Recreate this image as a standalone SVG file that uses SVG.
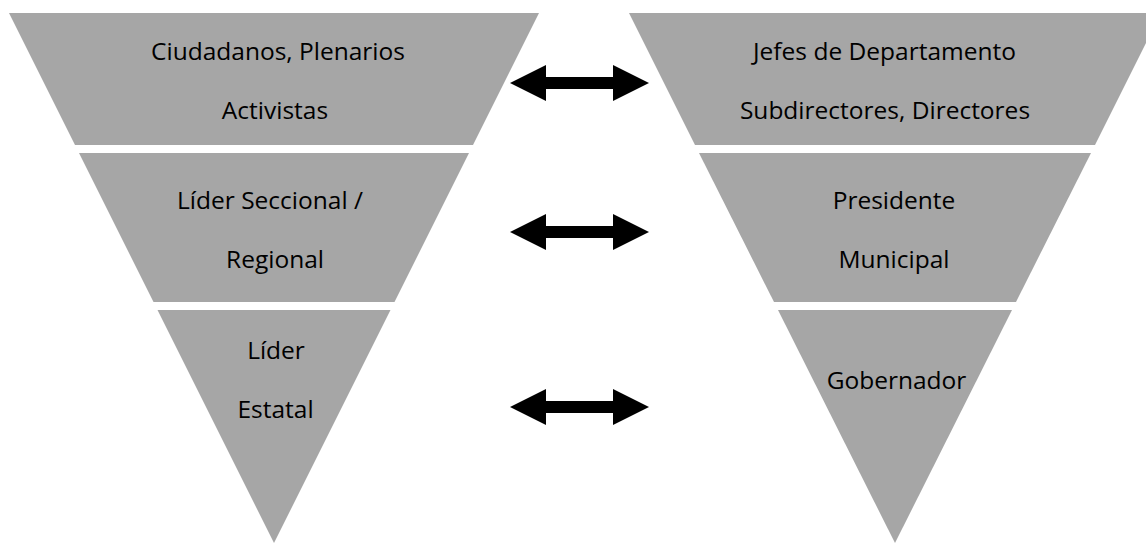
<svg xmlns="http://www.w3.org/2000/svg" width="1146" height="543" viewBox="0 0 1146 543">
  <style>
    .band { fill: #a6a6a6; }
    .lbl { font-family: "Open Sans", "Noto Sans", sans-serif; font-size: 24.5px; fill: #000; text-anchor: middle; }
    .arrow { fill: #000; }
  </style>
  <defs>
    <path id="dblarrow" d="M0,0 L36,-18 L36,-6 L103,-6 L103,-18 L139,0 L103,18 L103,6 L36,6 L36,18 Z"/>
  </defs>
  <rect width="1146" height="543" fill="#fff"/>

  <g id="left-pyramid">
    <g id="n-ciudadanos">
      <polygon class="band" points="9,13 539,13 473,145 75,145"/>
      <text class="lbl" x="278" y="60">Ciudadanos, Plenarios</text>
      <text class="lbl" x="275" y="119">Activistas</text>
    </g>
    <g id="n-lider-seccional">
      <polygon class="band" points="79,153 469,153 394.5,302 153.5,302"/>
      <text class="lbl" x="270" y="209">Líder Seccional /</text>
      <text class="lbl" x="275" y="268">Regional</text>
    </g>
    <g id="n-lider-estatal">
      <polygon class="band" points="157.5,310 390.5,310 274,543"/>
      <text class="lbl" x="276" y="359">Líder</text>
      <text class="lbl" x="275.5" y="418">Estatal</text>
    </g>
  </g>

  <g id="right-pyramid">
    <g id="n-jefes">
      <polygon class="band" points="629,13 1161,13 1095,145 695,145"/>
      <text class="lbl" x="884.5" y="60">Jefes de Departamento</text>
      <text class="lbl" x="885" y="119">Subdirectores, Directores</text>
    </g>
    <g id="n-presidente">
      <polygon class="band" points="699,153 1091,153 1016,302 774,302"/>
      <text class="lbl" x="894" y="209">Presidente</text>
      <text class="lbl" x="894" y="268">Municipal</text>
    </g>
    <g id="n-gobernador">
      <polygon class="band" points="778,310 1012,310 895,543"/>
      <text class="lbl" x="896.5" y="389">Gobernador</text>
    </g>
  </g>

  <g id="connectors">
    <use href="#dblarrow" class="arrow" x="510" y="83"/>
    <use href="#dblarrow" class="arrow" x="510" y="232"/>
    <use href="#dblarrow" class="arrow" x="510" y="407"/>
  </g>
</svg>
